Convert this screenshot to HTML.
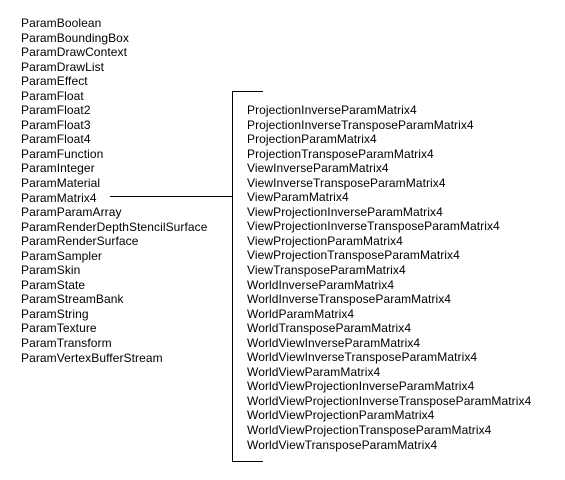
<!DOCTYPE html>
<html><head><style>
body{margin:0;width:565px;height:480px;background:#fff;position:relative;font-family:"Liberation Sans",Arial,sans-serif;font-size:12px;color:#000}
.c{position:absolute;line-height:14.55px;white-space:pre;letter-spacing:0.08px}
.l{position:absolute;background:#000}
</style></head><body>
<div class="c" style="left:21px;top:16px">ParamBoolean
ParamBoundingBox
ParamDrawContext
ParamDrawList
ParamEffect
ParamFloat
ParamFloat2
ParamFloat3
ParamFloat4
ParamFunction
ParamInteger
ParamMaterial
ParamMatrix4
ParamParamArray
ParamRenderDepthStencilSurface
ParamRenderSurface
ParamSampler
ParamSkin
ParamState
ParamStreamBank
ParamString
ParamTexture
ParamTransform
ParamVertexBufferStream</div>
<div class="c" style="left:247px;top:103px">ProjectionInverseParamMatrix4
ProjectionInverseTransposeParamMatrix4
ProjectionParamMatrix4
ProjectionTransposeParamMatrix4
ViewInverseParamMatrix4
ViewInverseTransposeParamMatrix4
ViewParamMatrix4
ViewProjectionInverseParamMatrix4
ViewProjectionInverseTransposeParamMatrix4
ViewProjectionParamMatrix4
ViewProjectionTransposeParamMatrix4
ViewTransposeParamMatrix4
WorldInverseParamMatrix4
WorldInverseTransposeParamMatrix4
WorldParamMatrix4
WorldTransposeParamMatrix4
WorldViewInverseParamMatrix4
WorldViewInverseTransposeParamMatrix4
WorldViewParamMatrix4
WorldViewProjectionInverseParamMatrix4
WorldViewProjectionInverseTransposeParamMatrix4
WorldViewProjectionParamMatrix4
WorldViewProjectionTransposeParamMatrix4
WorldViewTransposeParamMatrix4</div>
<div class="l" style="left:232px;top:91px;width:1px;height:371px"></div>
<div class="l" style="left:232px;top:91px;width:31px;height:1px"></div>
<div class="l" style="left:232px;top:461px;width:31px;height:1px"></div>
<div class="l" style="left:110px;top:196px;width:122px;height:1px"></div>
</body></html>
